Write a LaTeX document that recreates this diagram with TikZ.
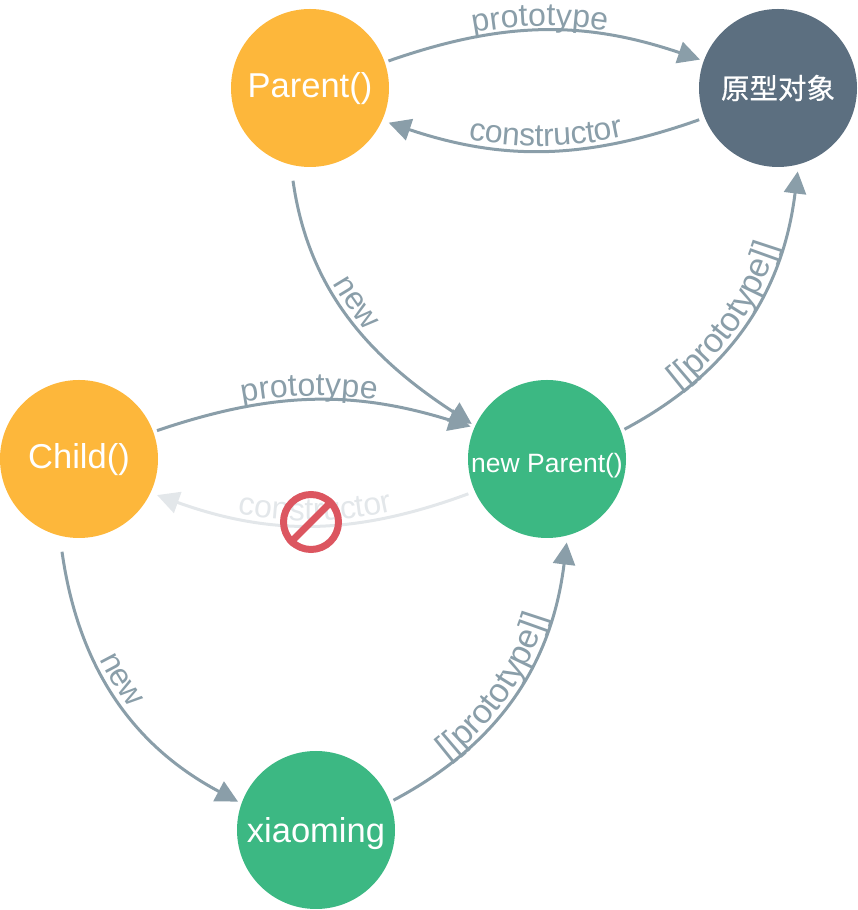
\documentclass[tikz,border=0pt]{standalone}
\usepackage{fontspec}
\setmainfont{Liberation Sans}
\newfontfamily\cjk[FakeBold=0.5]{Noto Sans CJK SC}
\usepackage{tikz}
\usetikzlibrary{arrows.meta, decorations.text}
\definecolor{edgegray}{HTML}{8A9EA9}
\definecolor{edgefade}{HTML}{E3E7EA}
\definecolor{banred}{HTML}{DC5660}
\definecolor{ctorgold}{HTML}{FDB73B}
\definecolor{objgreen}{HTML}{3CB883}
\definecolor{protoslate}{HTML}{5C6F80}
\newcommand{\edgefont}{\fontsize{32}{32}\selectfont\color{edgegray}}
\newcommand{\fadefont}{\fontsize{32}{32}\selectfont\color{edgefade}}
\newcommand{\longfont}{\fontsize{34}{34}\selectfont\color{edgegray}}
\newcommand{\dropbase}[2]{\raisebox{-#1pt}[0pt][0pt]{#2}}
\tikzset{
  obj/.style={circle, minimum size=158pt, inner sep=0pt, outer sep=4pt, text=white, font=\fontsize{34.5}{34.5}\selectfont},
  link/.style={draw=edgegray, line width=3pt, -{Triangle[length=22pt, width=22pt]}},
  fadelink/.style={link, draw=edgefade, -{Triangle[length=22pt, width=22pt, fill=edgefade]}},
  onpath/.style 2 args={postaction={decorate, decoration={text along path, text={#1}, text align={center, #2}, raise=4.5pt}}}
}
\begin{document}
\begin{tikzpicture}[x=1pt, y=1pt]
  \useasboundingbox (0,0) rectangle (857,910);
  % circles
  \node[obj, fill=ctorgold] (parent) at (310,822) {\dropbase{9.5}{Parent()}};
  \node[obj, fill=protoslate, font=\cjk\fontsize{28.5}{28.5}\selectfont] (proto) at (778,822) {原型对象};
  \node[obj, fill=ctorgold] (child) at (79,451) {\dropbase{10}{Child()}};
  \node[obj, fill=objgreen, font=\fontsize{26.5}{26.5}\selectfont] (newparent) at (547,451) {\dropbase{13.5}{new Parent()}};
  \node[obj, fill=objgreen] (xiaoming) at (316,80) {\dropbase{13}{xiaoming}};
  % top pair
  \draw[link, onpath={|\edgefont|prototype}{right indent=8pt}] (parent.19) to[bend left=19] (proto.160);
  \draw[link, shorten >=3pt, shorten <=2pt] (proto.202) to[bend left=19] (parent.-24);
  \path[onpath={|\edgefont|constructor}{left indent=5pt}] (parent.-24) to[bend right=19] (proto.202);
  % new
  \draw[link, shorten <=12pt, onpath={|\edgefont|new}{right indent=18pt}] (parent.257) to[out=-82, in=147] (newparent.155);
  \draw[link, shorten <=12pt, onpath={|\edgefont|new}{right indent=18pt}] (child.257) to[out=-82, in=152] (xiaoming.160);
  % middle pair
  \draw[link, onpath={|\edgefont|prototype}{right indent=8pt}] (child.20) to[bend left=18] (newparent.157);
  \draw[fadelink, shorten >=3pt, shorten <=3pt] (newparent.204) to[bend left=20] (child.-25);
  \path[onpath={|\fadefont|constructor}{left indent=6pt}] (child.-25) to[bend right=20] (newparent.204);
  % [[prototype]]
  \draw[link, shorten >=3pt, onpath={|\longfont|{[}{[}prototype{]}{]}}{right indent=12pt}] (newparent.21) to[out=28, in=-97] (proto.-76);
  \draw[link, shorten >=3pt, onpath={|\longfont|{[}{[}prototype{]}{]}}{right indent=12pt}] (xiaoming.21) to[out=28, in=-97] (newparent.-76);
  % ban sign
  \node[circle, draw=banred, line width=7pt, minimum size=55pt, inner sep=0pt] (ban) at (311,388) {};
  \draw[banred, line width=7pt] (ban.225) -- (ban.45);
\end{tikzpicture}
\end{document}
